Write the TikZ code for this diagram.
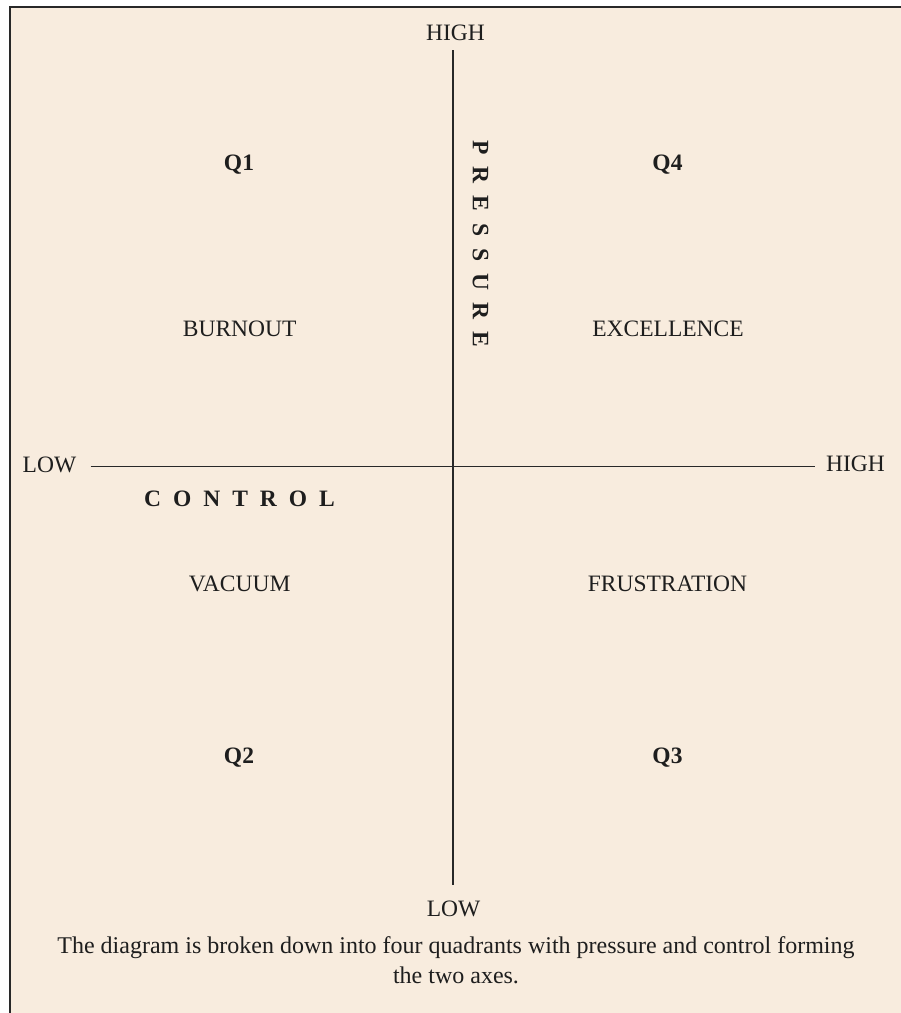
\documentclass[tikz,border=0pt]{standalone}
\usepackage{fontspec}
\setmainfont{Liberation Serif}
\definecolor{paper}{RGB}{248,236,222}
\definecolor{ink}{RGB}{30,30,30}
\definecolor{rule}{RGB}{40,40,40}
\newcommand{\gapsp}{\hspace{12pt}}
\begin{document}
\begin{tikzpicture}[x=1pt,y=-1pt,
  lbl/.style={inner sep=0pt,anchor=base,text=ink,font=\fontsize{23.5}{28}\selectfont},
  qlbl/.style={lbl,font=\fontsize{23.5}{28}\selectfont\bfseries},
  axis/.style={draw=rule,line width=1.1pt},
  frameline/.style={draw=rule,line width=1.6pt}]
  \useasboundingbox (0,0) rectangle (901,1013);
  % paper background with a frame along the top and left sides
  \fill[paper] (10,7) rectangle (905,1017);
  \coordinate (ftl) at (10,7);
  \coordinate (ftr) at (905,7);
  \coordinate (fbl) at (10,1017);
  \draw[frameline] (fbl) -- (ftl) -- (ftr);

  % axis end labels
  \node[lbl] (ptop) at (455.5,40) {HIGH};
  \node[lbl] (pbot) at (453.5,916) {LOW};
  \node[lbl] (cleft) at (49.5,472.7) {LOW};
  \node[lbl] (cright) at (855.5,471.7) {HIGH};

  % axes
  \coordinate (vtop) at (453,50);
  \coordinate (vbot) at (453,885);
  \coordinate (hleft) at (90.5,466.5);
  \coordinate (hright) at (815,466.5);
  \draw[axis] (vtop) -- (vbot);
  \draw[axis] (hleft) -- (hright);

  % axis titles
  \node[qlbl,anchor=center] (ctitle) at (239.5,498.5)
    {C\gapsp O\gapsp N\gapsp T\gapsp R\gapsp O\gapsp L};
  \node[qlbl,anchor=center,rotate=-90] (ptitle) at (480.5,244)
    {P\gapsp R\gapsp E\gapsp S\gapsp S\gapsp U\gapsp R\gapsp E};

  % quadrant names
  \node[qlbl] (q1) at (239,170.7) {Q1};
  \node[qlbl] (q4) at (667.5,170.7) {Q4};
  \node[qlbl] (q2) at (239,763.3) {Q2};
  \node[qlbl] (q3) at (667.5,763.3) {Q3};

  % quadrant meanings
  \node[lbl] (burnout) at (239.7,336.7) {BURNOUT};
  \node[lbl] (excellence) at (668,336.7) {EXCELLENCE};
  \node[lbl] (vacuum) at (239.7,591) {VACUUM};
  \node[lbl] (frustration) at (667.5,591) {FRUSTRATION};

  % caption
  \node[lbl,font=\fontsize{24}{30}\selectfont] (cap1) at (456,953.5)
    {The diagram is broken down into four quadrants with pressure and control forming};
  \node[lbl,font=\fontsize{24}{30}\selectfont] (cap2) at (456,983.5)
    {the two axes.};
\end{tikzpicture}
\end{document}
